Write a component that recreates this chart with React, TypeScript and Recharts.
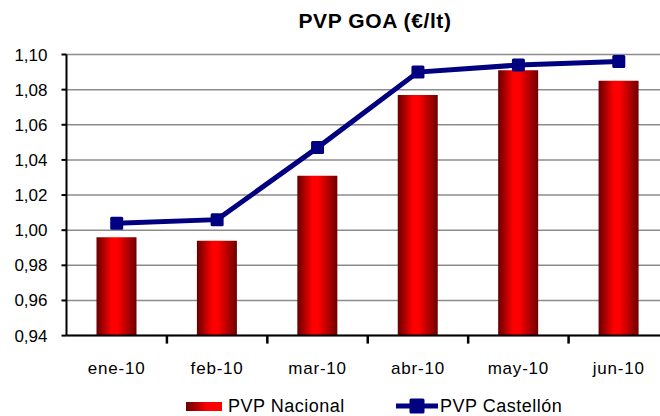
import React from 'react';
import { ComposedChart, Bar, Line, XAxis, YAxis, CartesianGrid, Legend } from 'recharts';

const months = ['ene-10', 'feb-10', 'mar-10', 'abr-10', 'may-10', 'jun-10'];
const nacional = [0.996, 0.994, 1.031, 1.077, 1.091, 1.085];
const castellon = [1.004, 1.006, 1.047, 1.09, 1.094, 1.096];
const yTicks = [0.94, 0.96, 0.98, 1.0, 1.02, 1.04, 1.06, 1.08, 1.1];

const data = months.map((m, i) => ({ month: m, nacional: nacional[i], castellon: castellon[i] }));

const FONT = '"Liberation Sans", Arial, Helvetica, sans-serif';
const CHART_W = 680;
const CHART_H = 416;
const MARGIN = { top: 54.5, right: 11, bottom: 50.4, left: 0 };
const Y_AXIS_W = 66.5;
const X_AXIS_H = 30;
const NAVY = '#000080';

const plotW = CHART_W - MARGIN.left - MARGIN.right - Y_AXIS_W;
const band = plotW / months.length;

const XTick = (props: any) => {
  const x = Number(props.x);
  const y = Number(props.y);
  const { payload } = props;
  const tx = x + band / 2;
  return (
    <g>
      <rect x={tx - 1.25} y={y} width={2.5} height={8} fill="#000" />
      <text x={x} y={y + 38} textAnchor="middle" fontFamily={FONT} fontSize={17} letterSpacing={0.8} fill="#000">
        {payload.value}
      </text>
    </g>
  );
};

const SquareDot = (props: any) => {
  const { cx, cy, index } = props;
  if (cx == null || cy == null) return null;
  return <rect key={`d${index}`} x={cx - 6.5} y={cy - 6.5} width={13} height={13} rx={1.5} fill={NAVY} />;
};

const renderLegend = () => (
  <div style={{ position: 'relative', width: 660, height: 20, fontFamily: FONT, fontSize: 18, color: '#000' }}>
    <div style={{ position: 'absolute', left: 186, top: 0, display: 'flex', alignItems: 'center', height: 20 }}>
      <svg width={36} height={10}>
        <defs>
          <linearGradient id="legGrad" x1="0" y1="0" x2="1" y2="0">
            <stop offset="0%" stopColor="#6a0000" />
            <stop offset="60%" stopColor="#ff0000" />
            <stop offset="100%" stopColor="#ff0000" />
          </linearGradient>
        </defs>
        <rect x={0} y={1} width={36} height={9} fill="url(#legGrad)" />
      </svg>
      <span style={{ marginLeft: 6, letterSpacing: 0.5 }}>PVP Nacional</span>
    </div>
    <div style={{ position: 'absolute', left: 396, top: 0, display: 'flex', alignItems: 'center', height: 20 }}>
      <svg width={42} height={16}>
        <line x1={0} x2={42} y1={8} y2={8} stroke={NAVY} strokeWidth={5} />
        <rect x={13.5} y={0.5} width={15} height={15} rx={1.5} fill={NAVY} />
      </svg>
      <span style={{ marginLeft: 2, letterSpacing: 0.5 }}>PVP Castellón</span>
    </div>
  </div>
);

export default function App() {
  return (
    <div style={{ position: 'fixed', left: 0, top: 0, width: 660, height: 416, overflow: 'hidden', background: '#fff' }}>
      <div
        style={{
          position: 'absolute',
          left: 275,
          width: 200,
          top: 10,
          textAlign: 'center',
          fontFamily: FONT,
          fontWeight: 'bold',
          fontSize: 21,
          lineHeight: '21px',
          letterSpacing: 0.6,
          color: '#000',
          zIndex: 2,
        }}
      >
        PVP GOA (€/lt)
      </div>
      <ComposedChart width={CHART_W} height={CHART_H} data={data} margin={MARGIN}>
        <defs>
          <linearGradient id="barGrad" x1="0" y1="0" x2="1" y2="0">
            <stop offset="0%" stopColor="#660000" />
            <stop offset="38%" stopColor="#ff0000" />
            <stop offset="52%" stopColor="#ff0000" />
            <stop offset="100%" stopColor="#6e0000" />
          </linearGradient>
        </defs>
        <CartesianGrid vertical={false} stroke="#8c8c8c" strokeWidth={1.5} />
        <XAxis
          dataKey="month"
          height={X_AXIS_H}
          axisLine={{ stroke: '#000', strokeWidth: 2 }}
          tickLine={false}
          tickSize={0}
          tickMargin={0}
          tick={<XTick />}
          interval={0}
        />
        <YAxis
          width={Y_AXIS_W}
          domain={[0.94, 1.1]}
          ticks={yTicks}
          allowDataOverflow
          axisLine={{ stroke: '#000', strokeWidth: 2 }}
          tickLine={{ stroke: '#000', strokeWidth: 2 }}
          tickSize={5}
          tickMargin={14}
          tickFormatter={(v: number) => v.toFixed(2).replace('.', ',')}
          tick={{ fontFamily: FONT, fontSize: 17, fill: '#000' }}
        />
        <Bar dataKey="nacional" name="PVP Nacional" barSize={40} fill="url(#barGrad)" isAnimationActive={false} />
        <Line
          dataKey="castellon"
          name="PVP Castellón"
          type="linear"
          stroke={NAVY}
          strokeWidth={5}
          dot={<SquareDot />}
          activeDot={false}
          isAnimationActive={false}
        />
        <Legend
          layout="horizontal"
          verticalAlign="middle"
          align="center"
          content={renderLegend}
          wrapperStyle={{ position: 'absolute', left: 0, top: 396, width: 660, height: 20 }}
        />
      </ComposedChart>
    </div>
  );
}
